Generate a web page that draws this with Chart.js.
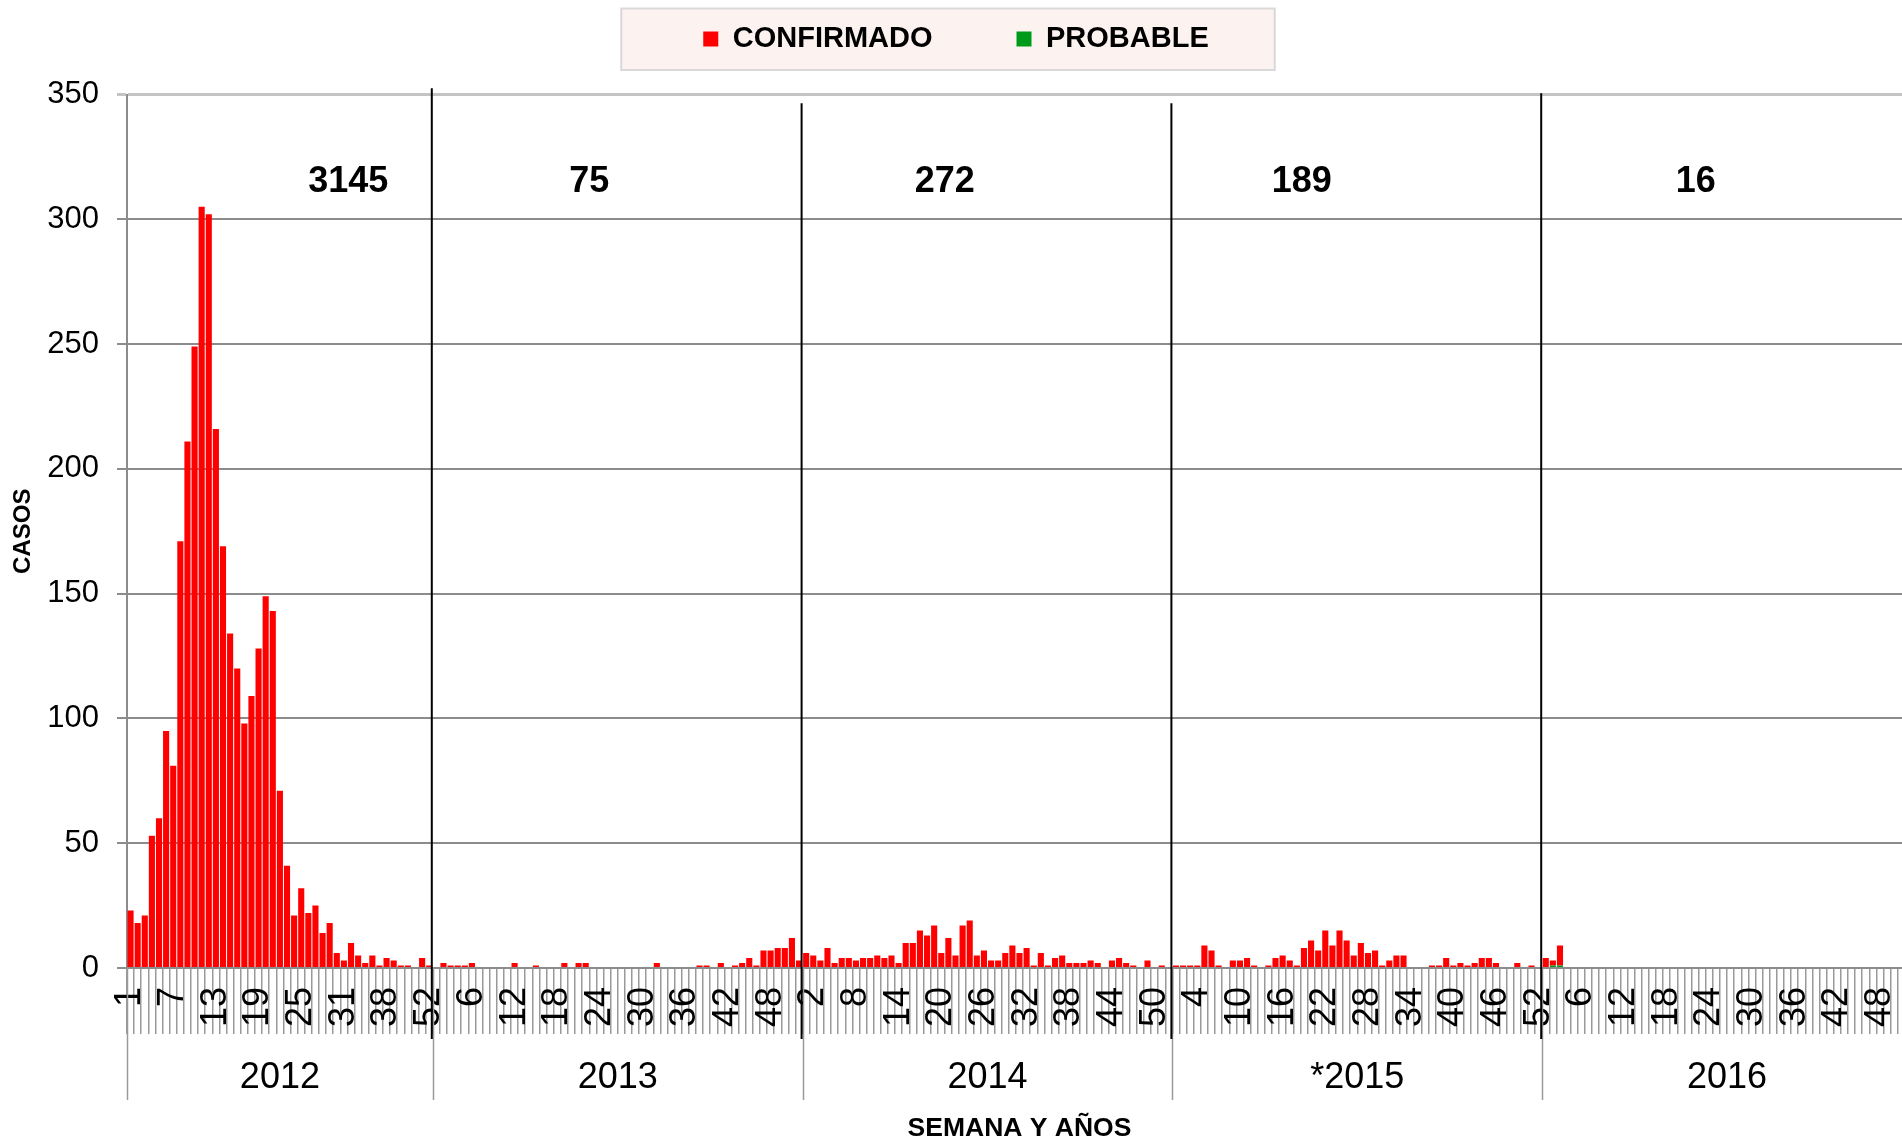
<!DOCTYPE html>
<html>
<head>
<meta charset="utf-8">
<script src="https://cdn.jsdelivr.net/npm/chart.js@4.4.1/dist/chart.umd.min.js"></script>
<style>
html,body{margin:0;padding:0;overflow:hidden;background:#fff;width:1902px;height:1142px}
#wrap{width:1912px;height:1142px;position:relative}
</style>
</head>
<body>
<div id="wrap"><canvas id="c" width="1912" height="1142" style="width:1912px;height:1142px"></canvas></div>
<script>
// ---- data ----
const yearNames  = ['2012', '2013', '2014', '*2015', '2016'];
const yearTotals = ['3145', '75', '272', '189', '16'];

const weeks2012 = [1,2,3,4,5,6,7,8,9,10,11,12,13,14,15,16,17,18,19,20,21,22,23,24,25,26,27,28,29,30,31,33,34,35,36,37,38,39,40,41,42,43,52];
const fullYearWeeks = Array.from({length: 52}, (_, i) => i + 1);
const weeks2013 = fullYearWeeks;
const weeks2014 = fullYearWeeks;
const weeks2015 = fullYearWeeks;
const weeks2016 = fullYearWeeks;

const confirmed2012 = [23,18,21,53,60,95,81,171,211,249,305,302,216,169,134,120,98,109,128,149,143,71,41,21,32,22,25,14,18,6,3,10,5,2,5,1,4,3,1,1,0,4,1];
const confirmed2013 = [0,2,1,1,1,2,0,0,0,0,0,2,0,0,1,0,0,0,2,0,2,2,0,0,0,0,0,0,0,0,0,2,0,0,0,0,0,1,1,0,2,0,1,2,4,1,7,7,8,8,12,3];
const confirmed2014 = [6,5,3,8,2,4,4,3,4,4,5,4,5,2,10,10,15,13,17,6,12,5,17,19,5,7,3,3,6,9,6,8,1,6,1,4,5,2,2,2,3,2,0,3,4,2,1,0,3,0,1,0];
const confirmed2015 = [1,1,1,1,9,7,1,0,3,3,4,1,0,1,4,5,3,1,8,11,7,15,9,15,11,5,10,6,7,1,3,5,5,0,0,0,1,1,4,1,2,1,2,4,4,2,0,0,2,0,1,0];
const confirmed2016 = [4,2,8];
const probable2016  = [0,1,1];

// ---- assembled for the library ----
const weekGroups = [weeks2012, weeks2013, weeks2014, weeks2015, weeks2016];
const labels = [].concat(...weekGroups).map(String);
const confirmedData = [].concat(confirmed2012, confirmed2013, confirmed2014, confirmed2015, confirmed2016);
const before2016 = weeks2012.length + weeks2013.length + weeks2014.length + weeks2015.length;
const probableData = new Array(before2016).fill(null).concat(probable2016);

const FONT = '"Liberation Sans", Arial, Helvetica, sans-serif';

// group start indices
const groupStarts = [];
{ let s = 0; weekGroups.forEach(g => { groupStarts.push(s); s += g.length; }); groupStarts.push(s); }

const decorPlugin = {
  id: 'decor',
  beforeDraw(chart) {
    const ctx = chart.ctx;
    ctx.save();
    ctx.fillStyle = '#ffffff';
    ctx.fillRect(0, 0, chart.width, chart.height);
    const lg = chart.legend;
    if (lg && lg.legendHitBoxes && lg.legendHitBoxes.length) {
      const hb = lg.legendHitBoxes;
      const f = hb[0], l = hb[hb.length - 1];
      const x0 = f.left - 82, x1 = l.left + l.width + 66;
      const y0 = f.top - 16, y1 = f.top + f.height + 16.5;
      ctx.fillStyle = '#fcf2ef';
      ctx.fillRect(x0, y0, x1 - x0, y1 - y0);
      ctx.strokeStyle = '#d9d9d9';
      ctx.lineWidth = 2;
      ctx.strokeRect(x0, y0, x1 - x0, y1 - y0);
    }
    ctx.restore();
  },
  afterDraw(chart) {
    const ctx = chart.ctx;
    const xs = chart.scales.x, ys = chart.scales.y;
    const half = (xs.getPixelForValue(1) - xs.getPixelForValue(0)) / 2;
    const boundary = i => xs.getPixelForValue(i) - half;
    ctx.save();
    // gray group separators below the axis
    ctx.strokeStyle = '#9a9a9a';
    ctx.lineWidth = 1.5;
    groupStarts.forEach(i => {
      const x = Math.round(boundary(i)) + 0.5;
      ctx.beginPath(); ctx.moveTo(x, xs.top); ctx.lineTo(x, xs.top + 132); ctx.stroke();
    });
    // year labels
    ctx.fillStyle = '#000';
    ctx.font = '36px ' + FONT;
    ctx.textAlign = 'center';
    ctx.textBaseline = 'middle';
    yearNames.forEach((name, k) => {
      const x = (boundary(groupStarts[k]) + boundary(groupStarts[k + 1])) / 2;
      ctx.fillText(name, x, xs.top + 110);
    });
    // black year dividers
    const tops = [352.5, 346.5, 346.5, 350.5];
    ctx.strokeStyle = '#000';
    ctx.lineWidth = 2;
    for (let k = 1; k < yearNames.length; k++) {
      const x = boundary(groupStarts[k]) - 1;
      ctx.beginPath(); ctx.moveTo(x, ys.getPixelForValue(tops[k - 1])); ctx.lineTo(x, xs.top + 71); ctx.stroke();
    }
    // yearly totals
    const anchors = [30.6, 64.5, 114.5, 164.7, 220.1];
    ctx.font = 'bold 36px ' + FONT;
    yearTotals.forEach((t, k) => {
      ctx.fillText(t, xs.getPixelForValue(anchors[k]), ys.getPixelForValue(315));
    });
    ctx.restore();
  }
};

new Chart(document.getElementById('c'), {
  type: 'bar',
  data: {
    labels: labels,
    datasets: [
      { label: 'PROBABLE', data: probableData, backgroundColor: '#009a1a', borderWidth: 0, xAxisID: 'x', yAxisID: 'y',
        categoryPercentage: 1.0, barPercentage: 0.86 },
      { label: 'CONFIRMADO', data: confirmedData, backgroundColor: '#ff0000', borderWidth: 0, xAxisID: 'x', yAxisID: 'y',
        categoryPercentage: 1.0, barPercentage: 0.86 }
    ]
  },
  options: {
    responsive: false,
    animation: false,
    devicePixelRatio: 1,
    layout: { padding: { top: -59.5, left: 0, right: 0, bottom: 0 } },
    plugins: {
      tooltip: { enabled: false },
      legend: {
        display: true,
        position: 'top',
        reverse: true,
        labels: {
          boxWidth: 15, boxHeight: 15, padding: 84, color: '#000',
          font: { family: FONT, size: 29, weight: 'bold' }
        }
      }
    },
    scales: {
      x: {
        type: 'category',
        position: 'bottom',
        stacked: true,
        offset: true,
        grid: { offset: true, drawOnChartArea: false, drawTicks: true, tickLength: 66, color: '#999999', lineWidth: 1.5 },
        border: { display: true, color: '#8c8c8c', width: 2 },
        ticks: {
          autoSkip: false, maxRotation: 90, minRotation: 90, padding: -47, color: '#000',
          font: { family: FONT, size: 36 },
          callback: function (value, index) { return index % 6 === 0 ? this.getLabelForValue(value) : ''; }
        },
        title: { display: true, text: 'SEMANA Y AÑOS', color: '#000', font: { family: FONT, size: 26.5, weight: 'bold', lineHeight: 1 }, padding: { top: 0, bottom: 0 } },
        afterFit: s => { s.height = 174; }
      },
      spacer: {
        type: 'category', axis: 'x', position: 'top', display: true,
        grid: { display: false, drawTicks: false }, border: { display: false }, ticks: { display: false },
        afterFit: s => { s.height = 31; }
      },
      y: {
        stacked: true,
        min: 0, max: 350,
        ticks: { stepSize: 50, color: '#000', padding: 18, font: { family: FONT, size: 31 } },
        grid: {
          color: c => (c.tick && c.tick.value === 350) ? '#c4c4c4' : '#8c8c8c',
          lineWidth: c => (c.tick && c.tick.value === 350) ? 3 : 2,
          tickLength: 10, drawTicks: true
        },
        border: { display: true, color: '#8c8c8c', width: 2 },
        title: { display: true, text: 'CASOS', color: '#000', font: { family: FONT, size: 24, weight: 'bold' }, padding: { top: 9, bottom: 0 } },
        afterFit: s => { s.width = 127; }
      }
    }
  },
  plugins: [decorPlugin]
});
</script>
</body>
</html>
